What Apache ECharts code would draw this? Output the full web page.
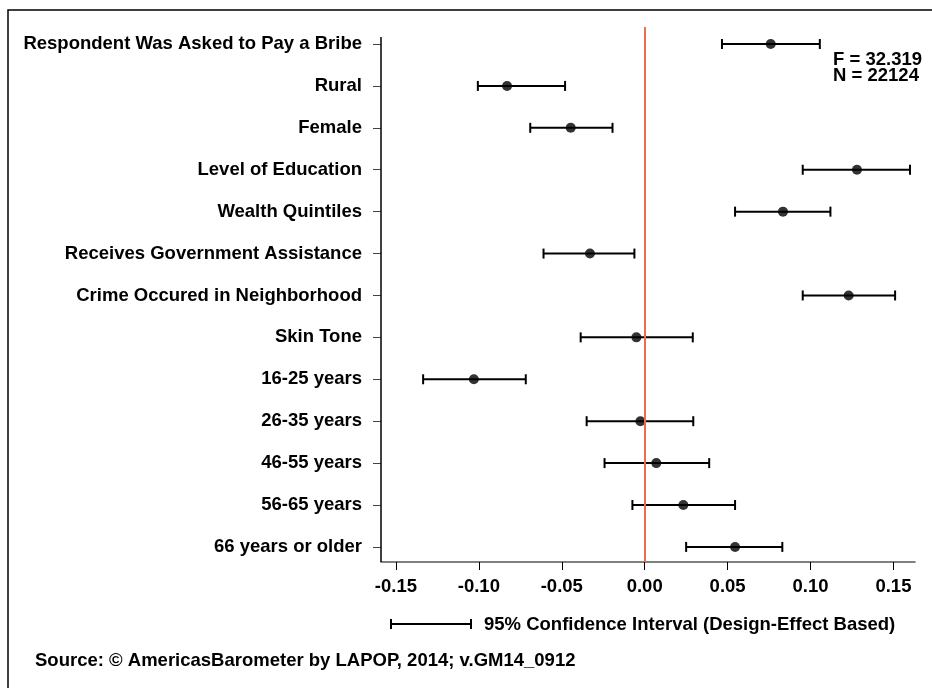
<!DOCTYPE html>
<html>
<head>
<meta charset="utf-8">
<style>
  html, body { margin: 0; padding: 0; background: #fff; }
  #chart { width: 932px; height: 688px; }
</style>
<script src="https://cdn.jsdelivr.net/npm/echarts@6/dist/echarts.min.js"></script>
</head>
<body>
<div id="chart"></div>
<script>
// rows top to bottom
var categories = [
  'Respondent Was Asked to Pay a Bribe', 'Rural', 'Female', 'Level of Education',
  'Wealth Quintiles', 'Receives Government Assistance', 'Crime Occured in Neighborhood',
  'Skin Tone', '16-25 years', '26-35 years', '46-55 years', '56-65 years', '66 years or older'
];
var estimates = [0.076, -0.083, -0.0446, 0.128, 0.0834, -0.033, 0.123, -0.005, -0.103, -0.0026, 0.007, 0.0233, 0.0545];
var lower = [0.0466, -0.1006, -0.069, 0.0953, 0.0545, -0.061, 0.0953, -0.0386, -0.1336, -0.035, -0.0242, -0.0074, 0.025];
var upper = [0.1056, -0.048, -0.0194, 0.160, 0.112, -0.0062, 0.151, 0.029, -0.0717, 0.0293, 0.0389, 0.0545, 0.083];
var xTicks = [-0.15, -0.10, -0.05, 0.00, 0.05, 0.10, 0.15];

var font = '"Liberation Sans", Arial, sans-serif';
var fs = 18.5;
var xMin = -0.159, xMax = 0.163;
var yTop = -0.406, yAxisTop = -0.167, yBottom = 12.36;

var rowIdx = categories.map(function (c, i) { return i; });
var ciData = categories.map(function (c, i) { return [lower[i], upper[i], i]; });
var pointData = categories.map(function (c, i) { return [estimates[i], i]; });

var chart = echarts.init(document.getElementById('chart'), null, { renderer: 'canvas' });

var option = {
  animation: false,
  backgroundColor: '#fff',
  grid: { left: 381, right: 17, top: 27, bottom: 126 },
  xAxis: {
    type: 'value',
    min: xMin,
    max: xMax,
    splitLine: { show: false },
    axisLine: { show: true, onZero: false, lineStyle: { color: '#555', width: 1.5 } },
    axisTick: { show: true, customValues: xTicks, length: 8, lineStyle: { color: '#000', width: 1 } },
    axisLabel: {
      customValues: xTicks, margin: 15,
      color: '#000', fontFamily: font, fontWeight: 'bold', fontSize: fs,
      formatter: function (v) { return v.toFixed(2); }
    }
  },
  yAxis: {
    type: 'value',
    inverse: true,
    min: yTop,
    max: yBottom,
    splitLine: { show: false },
    axisLine: { show: false, onZero: false },
    axisTick: { show: true, customValues: rowIdx, length: 8, lineStyle: { color: '#444', width: 1 } },
    axisLabel: {
      customValues: rowIdx, margin: 19,
      color: '#000', fontFamily: font, fontWeight: 'bold', fontSize: fs,
      formatter: function (v) { return categories[Math.round(v)] || ''; }
    }
  },
  series: [
    {
      type: 'custom',
      data: ciData,
      renderItem: function (params, api) {
        var a = api.coord([api.value(0), api.value(2)]);
        var b = api.coord([api.value(1), api.value(2)]);
        var st = { stroke: '#000', lineWidth: 2 };
        return {
          type: 'group',
          children: [
            { type: 'line', shape: { x1: a[0], y1: a[1], x2: b[0], y2: b[1] }, style: st },
            { type: 'line', shape: { x1: a[0], y1: a[1] - 5, x2: a[0], y2: a[1] + 5 }, style: st },
            { type: 'line', shape: { x1: b[0], y1: b[1] - 5, x2: b[0], y2: b[1] + 5 }, style: st }
          ]
        };
      },
      z: 3
    },
    {
      type: 'scatter',
      data: pointData,
      symbol: 'circle',
      symbolSize: 10,
      itemStyle: { color: '#000' },
      z: 4,
      markLine: {
        silent: true,
        symbol: 'none',
        label: { show: false },
        data: [
          [
            { coord: [0, yTop], lineStyle: { color: '#ef6b4a', width: 2, type: 'solid' } },
            { coord: [0, yBottom] }
          ],
          [
            { coord: [xMin, yAxisTop], lineStyle: { color: '#000', width: 1.5, type: 'solid' } },
            { coord: [xMin, yBottom] }
          ]
        ]
      }
    }
  ],
  graphic: [
    { type: 'rect', shape: { x: 8, y: 10, width: 940, height: 700 }, style: { fill: 'none', stroke: '#000', lineWidth: 1.5 }, silent: true },
    { type: 'text', right: 10, top: 50, style: { text: 'F = 32.319\nN = 22124', align: 'right', fill: '#000', font: 'bold ' + fs + 'px ' + font, lineHeight: 16 } },
    { type: 'line', shape: { x1: 391, y1: 624, x2: 471, y2: 624 }, style: { stroke: '#000', lineWidth: 2 } },
    { type: 'line', shape: { x1: 391, y1: 619, x2: 391, y2: 629 }, style: { stroke: '#000', lineWidth: 2 } },
    { type: 'line', shape: { x1: 471, y1: 619, x2: 471, y2: 629 }, style: { stroke: '#000', lineWidth: 2 } },
    { type: 'text', x: 484, y: 625, style: { text: '95% Confidence Interval (Design-Effect Based)', fill: '#000', font: 'bold ' + fs + 'px ' + font, verticalAlign: 'middle' } },
    { type: 'text', x: 35, y: 661, style: { text: 'Source: \u00a9 AmericasBarometer by LAPOP, 2014; v.GM14_0912', fill: '#000', font: 'bold ' + fs + 'px ' + font, verticalAlign: 'middle' } }
  ]
};

chart.setOption(option);
</script>
</body>
</html>
